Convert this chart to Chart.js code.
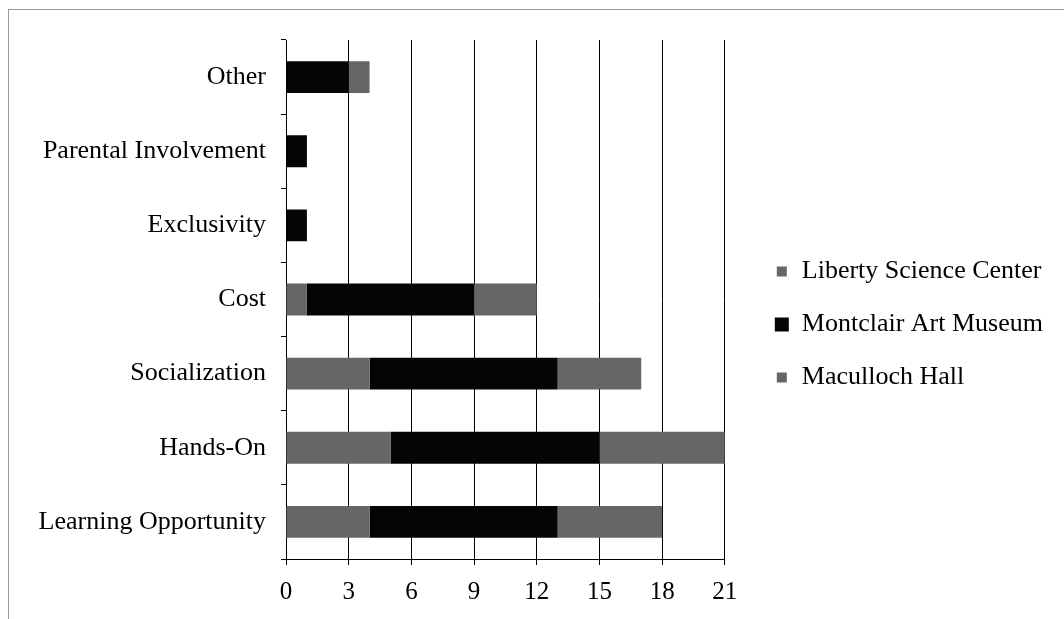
<!DOCTYPE html>
<html>
<head>
<meta charset="utf-8">
<script src="https://cdn.jsdelivr.net/npm/chart.js@4"></script>
<style>
  html, body { margin: 0; padding: 0; background: #fff; }
  #wrap { position: relative; width: 1064px; height: 619px; }
  #frame { position: absolute; left: 8px; top: 9px; right: 0; bottom: 0;
           border-left: 1px solid #9a9a9a; border-top: 1px solid #9a9a9a; pointer-events: none; }
  canvas { position: absolute; left: 0; top: 0; }
</style>
</head>
<body>
<div id="wrap">
  <canvas id="c" width="1064" height="619"></canvas>
  <div id="frame"></div>
</div>
<script>
const categories = ["Other", "Parental Involvement", "Exclusivity", "Cost", "Socialization", "Hands-On", "Learning Opportunity"];
const libertyScienceCenter = [0, 0, 0, 1, 4, 5, 4];
const montclairArtMuseum   = [3, 1, 1, 8, 9, 10, 9];
const macullochHall        = [1, 0, 0, 3, 4, 6, 5];
const seriesNames = ["Liberty Science Center", "Montclair Art Museum", "Maculloch Hall"];
const xTicks = [0, 3, 6, 9, 12, 15, 18, 21];

const FONT = "'Liberation Serif', 'Times New Roman', serif";
const GRAY = "#666666";
const BLACK = "#050505";

// shift the legend to leave a gap between plot and legend
const legendShift = {
  id: 'legendShift',
  afterLayout(chart) {
    const lg = chart.legend;
    if (lg) { lg.left += 23; lg.right += 23; lg.top -= 5; lg.bottom -= 5; }
  }
};

new Chart(document.getElementById('c'), {
  type: 'bar',
  data: {
    labels: categories,
    datasets: [
      { label: seriesNames[0], data: libertyScienceCenter, backgroundColor: GRAY },
      { label: seriesNames[1], data: montclairArtMuseum, backgroundColor: BLACK },
      { label: seriesNames[2], data: macullochHall, backgroundColor: GRAY }
    ]
  },
  plugins: [legendShift],
  options: {
    indexAxis: 'y',
    responsive: false,
    animation: false,
    devicePixelRatio: 1,
    layout: { padding: { top: 40, left: 38, right: 34, bottom: 0 } },
    datasets: { bar: { categoryPercentage: 1, barPercentage: 0.43 } },
    scales: {
      x: {
        stacked: true,
        min: 0, max: 21,
        afterBuildTicks: (axis) => { axis.ticks = xTicks.map(v => ({ value: v })); },
        grid: { color: '#000', lineWidth: 1, tickLength: 6, drawTicks: true },
        border: { color: '#000', width: 1 },
        ticks: { color: '#000', font: { family: FONT, size: 25 }, padding: 12 }
      },
      y: {
        stacked: true,
        grid: { display: true, drawOnChartArea: false, offset: true, color: '#000', tickLength: 5 },
        border: { color: '#000', width: 1 },
        ticks: { color: '#000', font: { family: FONT, size: 26 }, padding: 15 }
      }
    },
    plugins: {
      legend: {
        position: 'right',
        align: 'center',
        maxWidth: 400,
        labels: {
          color: '#000',
          font: { family: FONT, size: 26 },
          boxWidth: 14,
          boxHeight: 14,
          padding: 27,
          generateLabels(chart) {
            const items = Chart.defaults.plugins.legend.labels.generateLabels(chart);
            items.forEach((it, i) => {
              if (i !== 1) { it.lineWidth = 4; it.strokeStyle = '#ffffff'; }
              else { it.lineWidth = 0; }
            });
            return items;
          }
        }
      },
      tooltip: { enabled: false }
    }
  }
});
</script>
</body>
</html>
